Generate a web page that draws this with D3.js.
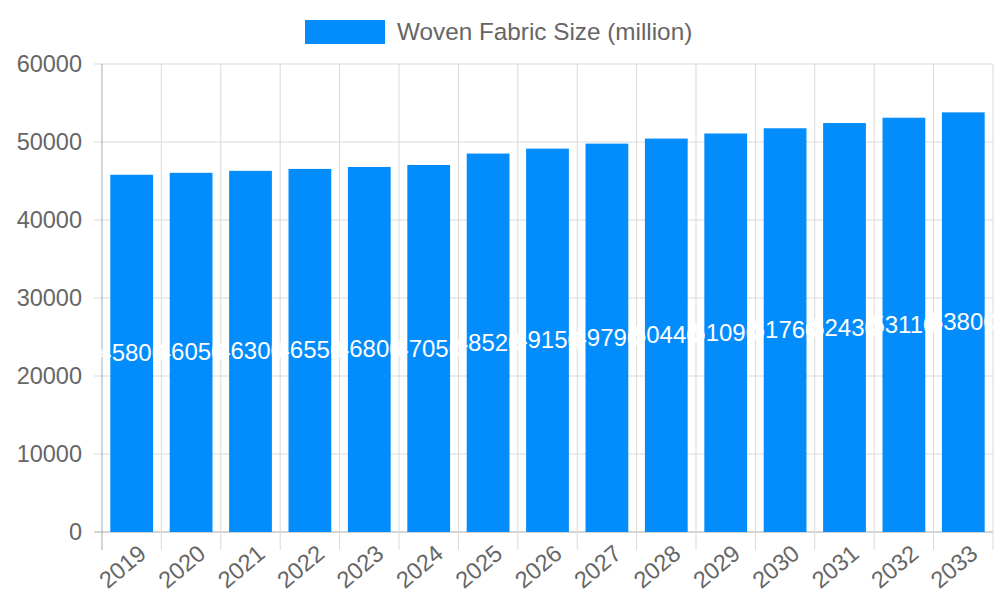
<!DOCTYPE html>
<html><head><meta charset="utf-8">
<script src="https://cdn.jsdelivr.net/npm/d3@7"></script>
<style>body{margin:0;background:#fff}text{font-family:"Liberation Sans",Arial,sans-serif}</style>
</head><body><svg id="c" width="1000" height="600"></svg>
<script>
const years = ["2019","2020","2021","2022","2023","2024","2025","2026","2027","2028","2029","2030","2031","2032","2033"];
const sizes = [45800,46050,46300,46550,46800,47050,48520,49150,49790,50440,51090,51760,52430,53110,53800];
const yTicks = [0,10000,20000,30000,40000,50000,60000];
const seriesName = "Woven Fabric Size (million)";

const svg = d3.select("#c");
const m = {l:102, r:993, t:64, b:532};
const x = d3.scaleBand().domain(years).range([m.l, m.r]).paddingInner(0.28).paddingOuter(0.14);
const y = d3.scaleLinear().domain([0,60000]).range([m.b, m.t]);
const grid = "#d9d9d9";

// horizontal grid + y ticks
svg.selectAll(".hg").data(yTicks).join("line")
  .attr("x1", m.l-8).attr("x2", m.r).attr("y1", d=>y(d)).attr("y2", d=>y(d))
  .attr("stroke", d=>d===0?"#aaa":grid);
svg.selectAll(".yl").data(yTicks).join("text")
  .attr("x", m.l-20).attr("y", d=>y(d)+8).attr("text-anchor","end")
  .attr("font-size",23.5).attr("fill","#666").text(d=>d);

// vertical grid at category edges
const edges = d3.range(years.length+1).map(i => m.l + i*(m.r-m.l)/years.length);
svg.selectAll(".vg").data(edges).join("line")
  .attr("x1", d=>d).attr("x2", d=>d).attr("y1", m.t).attr("y2", m.b+18)
  .attr("stroke", (d,i)=>i===0?"#aaa":grid);

// bars
svg.selectAll(".bar").data(sizes).join("rect")
  .attr("x", (d,i)=>x(years[i])).attr("width", x.bandwidth())
  .attr("y", d=>y(d)).attr("height", d=>y(0)-y(d)).attr("fill","#038cfc");

// value labels
svg.selectAll(".vl").data(sizes).join("text")
  .attr("x", (d,i)=>x(years[i])+x.bandwidth()/2).attr("y", d=>(y(d)+y(0))/2+8)
  .attr("text-anchor","middle").attr("font-size",24).attr("fill","#fff").text(d=>d);

// x labels rotated
svg.selectAll(".xl").data(years).join("text")
  .attr("transform", d=>`translate(${x(d)+x.bandwidth()/2+16},${m.b+24}) rotate(-40)`)
  .attr("text-anchor","end").attr("font-size",23.5).attr("fill","#666").text(d=>d);

// legend
svg.append("rect").attr("x",305).attr("y",20).attr("width",80).attr("height",24).attr("fill","#038cfc");
svg.append("text").attr("x",397).attr("y",40).attr("font-size",24.3).attr("fill","#666").text(seriesName);
</script></body></html>
